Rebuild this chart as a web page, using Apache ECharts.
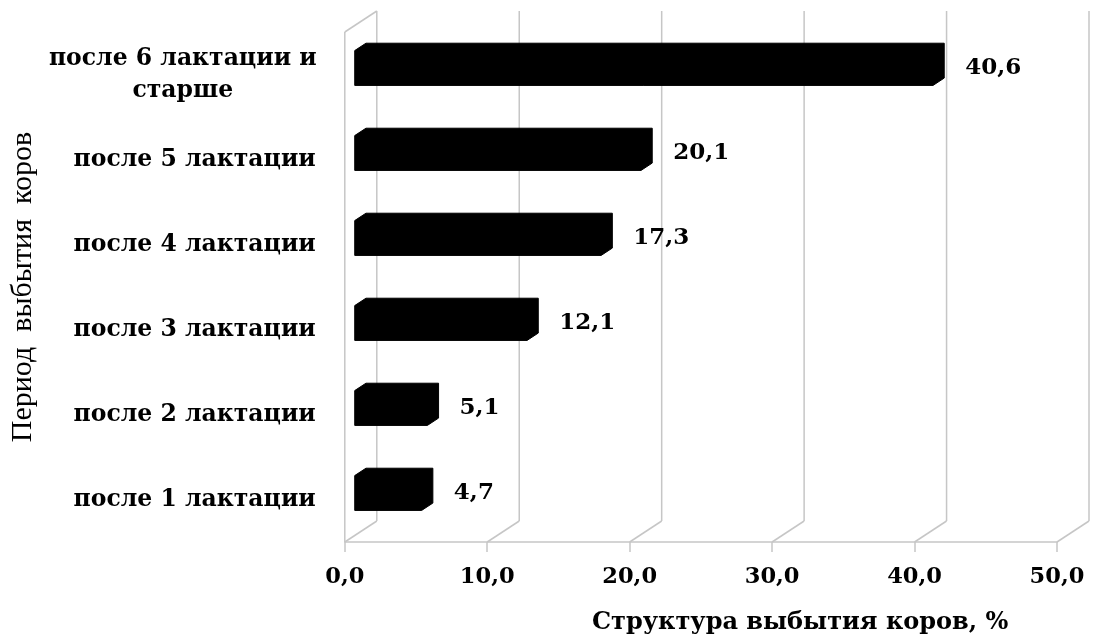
<!DOCTYPE html>
<html><head><meta charset="utf-8">
<script src="https://cdn.jsdelivr.net/npm/echarts@6/dist/echarts.min.js"></script>
<style>html,body{margin:0;padding:0;background:#fff}#c{width:1093px;height:639px}</style>
</head><body><div id="c"></div>
<script>
// ---- data ----
const categories = ['после 1 лактации', 'после 2 лактации', 'после 3 лактации', 'после 4 лактации', 'после 5 лактации', 'после 6 лактации и\nстарше'];
const values = [4.7, 5.1, 12.1, 17.3, 20.1, 40.6];
const xTicks = [0, 10, 20, 30, 40, 50];
const xAxisTitle = 'Структура выбытия коров, %';
const yAxisTitle = 'Период  выбытия  коров';

// ---- style ----
const DEPTH = [32, -21];            // offset of the back wall (px)
const BAR_FRONT = 0.31, BAR_BACK = 0.66;
const GRID_COLOR = '#c6c6c6';
const TXT = '#000';
const fmt = v => v.toFixed(1).replace('.', ',');

const chart = echarts.init(document.getElementById('c'), null, {renderer: 'canvas'});

const gridSeries = {
  type: 'custom',
  silent: true,
  z: 1,
  data: xTicks.map(v => [v, 0]),
  renderItem: function (params, api) {
    const v = api.value(0);
    const x = api.coord([v, 0])[0];
    const cs = params.coordSys;
    const top = cs.y, bottom = cs.y + cs.height;
    const ls = {stroke: GRID_COLOR, lineWidth: 1.5};
    const ch = [
      {type: 'line', shape: {x1: x + DEPTH[0], y1: top + DEPTH[1], x2: x + DEPTH[0], y2: bottom + DEPTH[1]}, style: ls},
      {type: 'line', shape: {x1: x + DEPTH[0], y1: bottom + DEPTH[1], x2: x, y2: bottom}, style: ls}
    ];
    if (v === xTicks[0]) {
      ch.push({type: 'line', shape: {x1: x, y1: top, x2: x, y2: bottom}, style: ls});
      ch.push({type: 'line', shape: {x1: x, y1: top, x2: x + DEPTH[0], y2: top + DEPTH[1]}, style: ls});
    }
    return {type: 'group', children: ch};
  }
};

const barSeries = {
  type: 'custom',
  z: 5,
  data: values.map((v, i) => [v, i]),
  renderItem: function (params, api) {
    const v = api.value(0), c = api.value(1);
    const p0 = api.coord([0, c]), p1 = api.coord([v, c]);
    const band = api.size([0, 1])[1];
    const h = band * 0.41;
    const fx = DEPTH[0] * BAR_FRONT, fy = DEPTH[1] * BAR_FRONT;
    const bx = DEPTH[0] * (BAR_BACK - BAR_FRONT), by = DEPTH[1] * (BAR_BACK - BAR_FRONT);
    const xa = p0[0] + fx, xb = p1[0] + fx, yc = p0[1] + fy;
    const yt = yc - h / 2, yb = yc + h / 2;
    return {
      type: 'group',
      children: [
        {type: 'polygon', shape: {points: [[xa, yb], [xa, yt], [xa + bx, yt + by], [xb + bx, yt + by], [xb + bx, yb + by], [xb, yb]]},
          style: {fill: '#000', stroke: '#000', lineWidth: 1}},
        {type: 'text', style: {text: fmt(v), x: xb + bx + 21, y: yc, align: 'left', verticalAlign: 'middle',
          fill: TXT, fontFamily: 'DejaVu Serif', fontWeight: 'bold', fontSize: 23}}
      ]
    };
  }
};

const option = {
  animation: false,
  backgroundColor: '#fff',
  title: {text: xAxisTitle, left: 587, top: 606,
    textStyle: {fontFamily: 'DejaVu Serif', fontWeight: 'bold', fontSize: 24, color: TXT}},
  grid: {left: 342, right: 36, top: 32, bottom: 97, containLabel: false},
  xAxis: {
    type: 'value', min: 0, max: 50, interval: 10,
    axisLine: {show: true, lineStyle: {color: GRID_COLOR, width: 1.5}},
    axisTick: {show: true, length: 10, lineStyle: {color: GRID_COLOR, width: 1.5}},
    splitLine: {show: false},
    axisLabel: {formatter: v => fmt(v), fontFamily: 'DejaVu Serif', fontWeight: 'bold', fontSize: 22.5, color: TXT, margin: 24}
  },
  yAxis: {
    type: 'category', data: categories,
    axisLine: {show: false}, axisTick: {show: false}, splitLine: {show: false},
    axisLabel: {
      margin: 29, color: TXT, fontFamily: 'DejaVu Serif', fontWeight: 'bold', fontSize: 23.5, lineHeight: 32,
      formatter: function (val) {
        if (val.indexOf('\n') >= 0) {
          return val.split('\n').map(s => '{c|' + s + '}').join('\n');
        }
        return val;
      },
      rich: {c: {width: 266, align: 'center', fontFamily: 'DejaVu Serif', fontWeight: 'bold', fontSize: 23.5, lineHeight: 32, color: TXT}}
    },
    name: yAxisTitle, nameLocation: 'middle', nameRotate: 90, nameGap: 302,
    nameTextStyle: {fontFamily: 'Liberation Serif', fontSize: 30, color: TXT}
  },
  series: [gridSeries, barSeries]
};
chart.setOption(option);
</script>
</body></html>
